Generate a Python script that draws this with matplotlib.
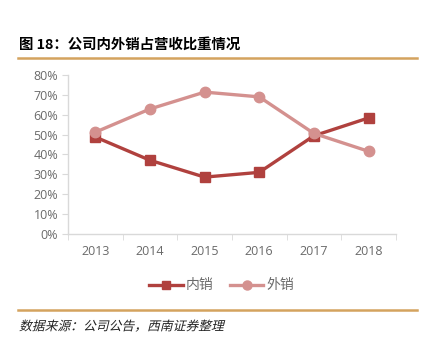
import matplotlib.pyplot as plt
import numpy as np
from matplotlib.lines import Line2D
from matplotlib.textpath import TextPath
from matplotlib.patches import PathPatch
from matplotlib.font_manager import FontProperties
from matplotlib.transforms import Affine2D, IdentityTransform

plt.rcParams['font.family'] = ['Open Sans', 'Noto Sans CJK SC', 'DejaVu Sans']

years = ['2013', '2014', '2015', '2016', '2017', '2018']
inner = [48.8, 37.1, 28.6, 31.0, 49.4, 58.4]   # 内销
outer = [51.2, 62.9, 71.4, 69.0, 50.6, 41.6]   # 外销
yticks = [0, 10, 20, 30, 40, 50, 60, 70, 80]

c_in = '#B0413E'
c_out = '#D4918F'
gray = '#6A6A6A'

fig = plt.figure(figsize=(4.22, 3.41), dpi=100)
ax = fig.add_axes([0.161, 0.314, 0.777, 0.466])

x = np.arange(len(years))
ax.plot(x, inner, color=c_in, lw=2.4, marker='s', ms=7, label='内销', zorder=3)
ax.plot(x, outer, color=c_out, lw=2.4, marker='o', ms=7.5, label='外销', zorder=3)

ax.set_xlim(-0.5, len(years) - 0.5)
ax.set_ylim(0, 80)
ax.set_yticks(yticks)
ax.set_yticklabels([f'{v}%' for v in yticks])
ax.set_xticks(x)
ax.set_xticklabels(years)
ax.set_xticks(np.arange(-0.5, len(years)), minor=True)
ax.tick_params(axis='x', which='major', length=0, pad=8, labelsize=9, colors=gray)
ax.tick_params(axis='x', which='minor', length=4, color='#D9D9D9', direction='out')
ax.tick_params(axis='y', length=4, color='#D9D9D9', labelsize=9, labelcolor=gray, pad=3)
for s in ['top', 'right']:
    ax.spines[s].set_visible(False)
for s in ['left', 'bottom']:
    ax.spines[s].set_color('#D9D9D9')
    ax.spines[s].set_linewidth(1)

handles = [Line2D([], [], color=c_in, lw=2.4, marker='s', ms=6),
           Line2D([], [], color=c_out, lw=2.4, marker='o', ms=6.5)]
leg = fig.legend(handles, ['内销', '外销'], loc='center', bbox_to_anchor=(0.525, 0.163),
                 ncol=2, frameon=False, handlelength=2.4, columnspacing=1.2,
                 handletextpad=0.2, prop={'family': ['Noto Sans CJK SC'], 'size': 10})
for t in leg.get_texts():
    t.set_color(gray)

fig.text(0.045, 0.868, '图 18：公司内外销占营收比重情况', fontsize=10.4, fontweight='bold',
         family=['Noto Sans CJK SC'], va='center')
fig.add_artist(Line2D([0.043, 0.987], [0.829, 0.829], color='#D4A35E', lw=1.8))
fig.add_artist(Line2D([0.043, 0.987], [0.091, 0.091], color='#D4A35E', lw=1.8))

# slanted source note (CJK font has no italic face)
src = '数据来源：公司公告，西南证券整理'
tp = TextPath((0, 0), src, size=12.8, prop=FontProperties(family='Noto Sans CJK SC'))
tr = Affine2D().skew_deg(14, 0).translate(19, 341 * 0.046 - 5)
fig.add_artist(PathPatch(tr.transform_path(tp), transform=IdentityTransform(),
                         color='#222222', lw=0))

fig.savefig('out.png', dpi=100)
